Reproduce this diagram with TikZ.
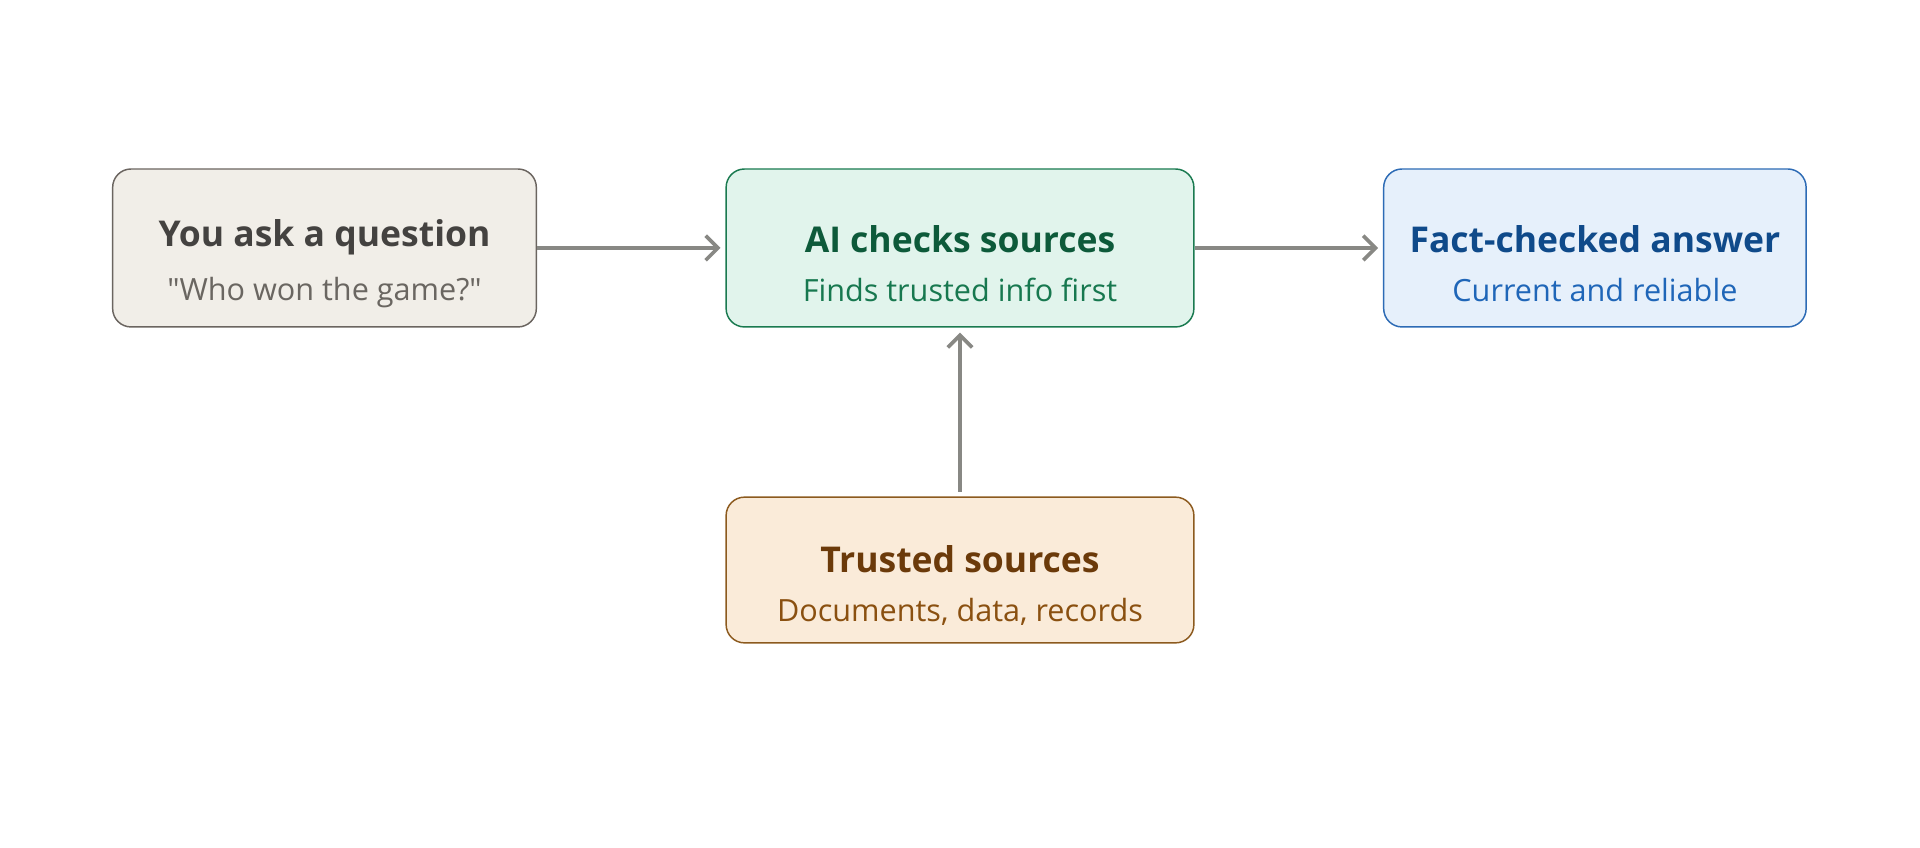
\documentclass[tikz,border=0pt]{standalone}
\usepackage{fontspec}
\setmainfont{Open Sans}
\usetikzlibrary{arrows.meta}
\usetikzlibrary{positioning}
\definecolor{askfill}{HTML}{F1EEE8}\definecolor{askdraw}{HTML}{6B6560}
\definecolor{askhead}{HTML}{444240}\definecolor{asksub}{HTML}{6A6661}
\definecolor{aifill}{HTML}{E1F4EC}\definecolor{aidraw}{HTML}{1A7A50}
\definecolor{aihead}{HTML}{0D5A3A}\definecolor{aisub}{HTML}{17784F}
\definecolor{ansfill}{HTML}{E6F0FB}\definecolor{ansdraw}{HTML}{2D6BB5}
\definecolor{anshead}{HTML}{0F4A8A}\definecolor{anssub}{HTML}{1F66B8}
\definecolor{srcfill}{HTML}{FAEBD9}\definecolor{srcdraw}{HTML}{8C5A1E}
\definecolor{srchead}{HTML}{6B3A0A}\definecolor{srcsub}{HTML}{8A5010}
\definecolor{flowgray}{HTML}{888884}
\tikzset{
  box/.style={draw, rounded corners=7.5pt, line width=0.6pt, align=center,
    minimum height=64.5pt, inner sep=0pt},
  flow/.style={-{Straight Barb[length=5pt,width=10pt]}, draw=flowgray, line width=1.5pt}
}
\newcommand{\boxtext}[2]{{\fontsize{14.5}{21}\selectfont\bfseries\rule{0pt}{24pt}#1}\\[8pt]{\fontsize{12.5}{18}\selectfont #2}}
\begin{document}
\begin{tikzpicture}[x=0.5pt,y=-0.5pt]
    \useasboundingbox (0,0) rectangle (1568,692);
    \node(ask)[box, fill=askfill, draw=askdraw, minimum width=173pt] at (265,202.5) {\boxtext{\color{askhead}You ask a question}{\color{asksub}\textquotedbl Who won the game?\textquotedbl}};
    \node(ai)[box, fill=aifill, draw=aidraw, minimum width=191pt] at (784,202.5) {\boxtext{\color{aihead}AI checks sources}{\color{aisub}Finds trusted info first}};
    \node(ans)[box, fill=ansfill, draw=ansdraw, minimum width=172.5pt] at (1302.5,202.5) {\boxtext{\color{anshead}Fact-checked answer}{\color{anssub}Current and reliable}};
    \node(src)[box, fill=srcfill, draw=srcdraw, minimum width=191pt, minimum height=59.5pt] at (784,465.5) {\boxtext{\color{srchead}Trusted sources}{\color{srcsub}Documents, data, records}};

    \draw[flow] (ask.east)--([xshift=-2pt]ai.west);
    \draw[flow] (ai.east)--([xshift=-2pt]ans.west);
    \draw[flow] ([yshift=2pt]src.north)--([yshift=-2pt]ai.south);
\end{tikzpicture}
\end{document}
